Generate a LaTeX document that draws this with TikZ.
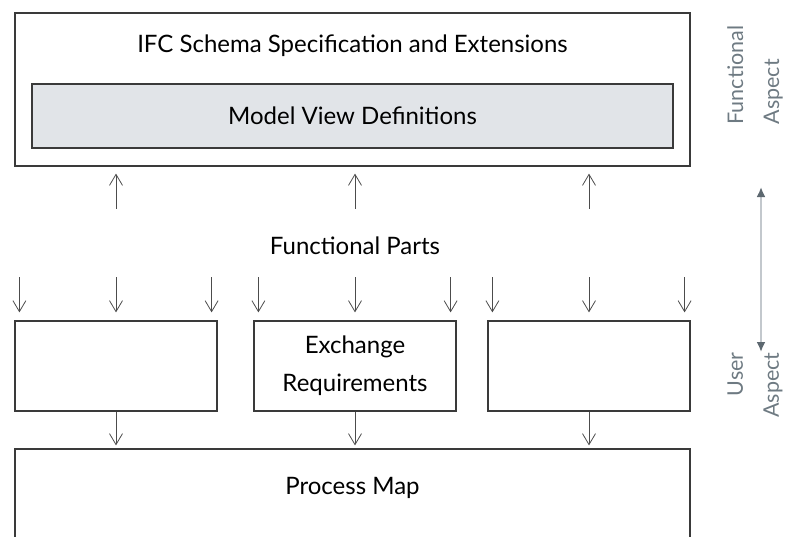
\documentclass[tikz,border=0pt]{standalone}
\usepackage{fontspec}
\setmainfont{Lato}
\usetikzlibrary{arrows.meta}
\definecolor{boxline}{HTML}{3A3A3A}
\definecolor{mvdfill}{HTML}{E1E4E8}
\definecolor{aspecttext}{HTML}{6E7A82}
\definecolor{aspectline}{HTML}{C3C8CD}
\definecolor{aspecttip}{HTML}{5D6870}

\begin{document}
\begin{tikzpicture}[x=1pt, y=-1pt,
	box/.style={draw=boxline, line width=1.2pt, minimum width=202pt, minimum height=90pt, inner sep=0pt, align=center, font=\fontsize{24}{38}\selectfont},
	txt/.style={inner sep=0pt, font=\fontsize{24}{38}\selectfont},
	aspect/.style={inner sep=0pt, rotate=90, text=aspecttext, font=\fontsize{21.5}{36}\selectfont},
	flow/.style={draw=black!70, line width=0.8pt, -{Straight Barb[length=11pt, width=13pt]}}]
	\clip (0,0) rectangle (792,536);
	% functional side
	\node[box, minimum width=675pt, minimum height=153pt] (ifc) at (352.5,89.5) {};
	\node[txt] (ifctitle) at (352.5,46) {IFC Schema Specification and Extensions};
	\node[box, fill=mvdfill, minimum width=641pt, minimum height=64pt] (mvd) at (352.5,116) {Model View Definitions};
	\node[txt] (fparts) at (355,246) {Functional Parts};
	% user side
	\node[box] (req1) at (116,366) {};
	\node[box] (req2) at (355,366) {Exchange\\Requirements};
	\node[box] (req3) at (589,366) {};
	\node[box, minimum width=675pt, minimum height=100pt] (pmap) at (352.5,499) {};
	\node[txt] (pmaptitle) at (352.5,488) {Process Map};
	\foreach \b in {req1,req2,req3} {
		\draw[flow] ([yshift=-42pt]ifc.south -| \b) -- ([yshift=-7pt]ifc.south -| \b);
		\foreach \a/\s in {north west/5pt, north/0pt, north east/-6pt}
			\draw[flow] ([xshift=\s, yshift=43pt]\b.\a) -- ([xshift=\s, yshift=8pt]\b.\a);
		\draw[flow, shorten >=3pt] (\b.south) -- (\b.south |- pmap.north);
	}
	% aspects
	\node[aspect, align=left] (funcasp) at (755,75) {Functional\\Aspect};
	\node[aspect, align=right] (userasp) at (755,385) {User\\Aspect};
	\coordinate (asptop) at (761,187);
	\coordinate (aspbot) at (761,352);
	\draw[aspectline, line width=2pt, {Latex[color=aspecttip, length=10pt, width=9pt]}-{Latex[color=aspecttip, length=10pt, width=9pt]}] (asptop) -- (aspbot);
\end{tikzpicture}
\end{document}
